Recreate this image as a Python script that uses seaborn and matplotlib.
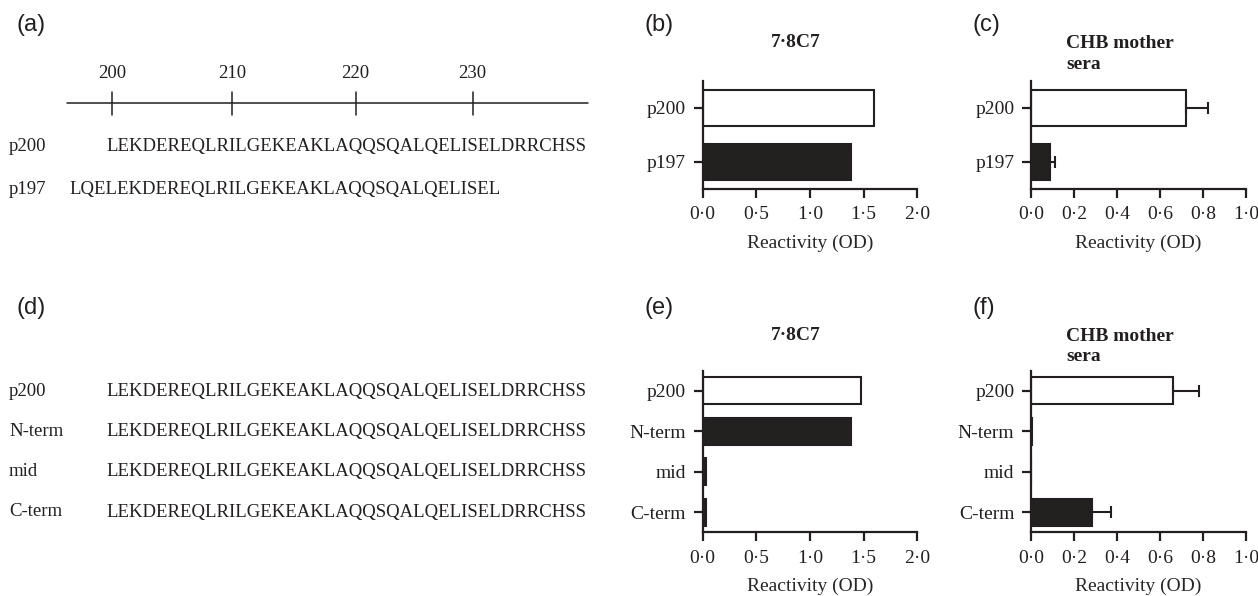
import numpy as np
import pandas as pd
import seaborn as sns
import matplotlib.pyplot as plt
from matplotlib.lines import Line2D

# peptide sequences, panel (a) and (d)
seq_p200 = 'LEKDEREQLRILGEKEAKLAQQSQALQELISELDRRCHSS'
seq_p197 = 'LQELEKDEREQLRILGEKEAKLAQQSQALQELISEL'
start_p200 = 200
start_p197 = 197
ruler_ticks = [200, 210, 220, 230]
seq_names_d = ['p200', 'N-term', 'mid', 'C-term']
seqs_d = [seq_p200, seq_p200, seq_p200, seq_p200]

# reactivity data (OD)
peptides_top = ['p200', 'p197']
od_78c7_top = [1.60, 1.38]
od_chb_top = [0.72, 0.088]
err_chb_top = [0.105, 0.024]

peptides_bottom = ['p200', 'N-term', 'mid', 'C-term']
od_78c7_bottom = [1.48, 1.38, 0.03, 0.03]
od_chb_bottom = [0.66, 0.004, 0.002, 0.283]
err_chb_bottom = [0.122, 0.0, 0.0, 0.09]

ink = '#231f20'
serif = 'Liberation Serif'
sans = 'Liberation Sans'
fs = 13.5
fs_ax = 14

sns.set_style('ticks')
plt.rcParams['font.family'] = [serif, 'DejaVu Serif']
plt.rcParams['text.color'] = ink
plt.rcParams['axes.edgecolor'] = ink

W, H = 1258, 596
fig = plt.figure(figsize=(W / 100, H / 100), dpi=100)


def fx(x):
    return x / W


def fy(y):
    return 1 - y / H


def od_fmt(v):
    return f'{v:.1f}'.replace('.', '\u00b7')


def draw_bars(rect, cats, vals, xmax, step, errs=None):
    ax = fig.add_axes(rect)
    df = pd.DataFrame({'peptide': cats, 'od': vals})
    pal = {c: ('white' if c == 'p200' else ink) for c in cats}
    sns.barplot(data=df, x='od', y='peptide', hue='peptide', palette=pal,
                legend=False, orient='h', width=0.67, edgecolor=ink,
                linewidth=1.5, ax=ax)
    if errs is not None:
        pos = np.arange(len(cats))
        e = np.array(errs)
        keep = e > 0
        ax.errorbar(np.array(vals)[keep], pos[keep],
                    xerr=[np.zeros(keep.sum()), e[keep]], fmt='none',
                    ecolor=ink, elinewidth=1.5, capsize=4.3, capthick=1.5)
    ax.set_xlim(0, xmax)
    ax.set_ylim(len(cats) - 0.5, -0.5)
    ticks = np.arange(0, xmax + 1e-9, step)
    ax.set_xticks(ticks)
    ax.set_xticklabels([od_fmt(t) for t in ticks])
    ax.set_ylabel('')
    ax.set_xlabel('Reactivity (OD)', fontsize=fs_ax, labelpad=8)
    sns.despine(ax=ax)
    for s in ['left', 'bottom']:
        ax.spines[s].set_linewidth(1.6)
    ax.tick_params(axis='both', direction='out', length=6.5, width=1.6,
                   colors=ink, labelsize=fs_ax)
    ax.tick_params(axis='y', pad=5.5)
    ax.tick_params(axis='x', pad=6)
    return ax


# bar panels
top_b, top_h = 1 - 189 / H, 108 / H
bot_b, bot_h = 1 - 532.3 / H, 161.6 / H
left_b, left_c, wid = 702.5 / W, 1031 / W, 214.8 / W

draw_bars([left_b, top_b, wid, top_h], peptides_top, od_78c7_top, 2.0, 0.5)
draw_bars([left_c, top_b, wid, top_h], peptides_top, od_chb_top, 1.0, 0.2,
          err_chb_top)
draw_bars([left_b, bot_b, wid, bot_h], peptides_bottom, od_78c7_bottom, 2.0, 0.5)
draw_bars([left_c, bot_b, wid, bot_h], peptides_bottom, od_chb_bottom, 1.0, 0.2,
          err_chb_bottom)

# titles
for ty in [42.5, 335]:
    fig.text(fx(795.5), fy(ty), '7\u00b78C7', ha='center', va='center',
             fontsize=fs_ax, fontweight='bold')
    fig.text(fx(1066), fy(ty + 11.5), 'CHB mother\nsera', ha='left',
             va='center', fontsize=fs_ax, fontweight='bold', linespacing=1.3)

# panel letters
for lab, x, y in [('(a)', 16, 25), ('(b)', 645, 25), ('(c)', 973, 25),
                  ('(d)', 16, 308), ('(e)', 645, 308), ('(f)', 973, 308)]:
    fig.text(fx(x), fy(y), lab, ha='left', va='center', fontsize=17,
             family=sans)

# sequences
seq_x = 106
renderer = fig.canvas.get_renderer()


def text_width(s):
    t = fig.text(0, 0, s, fontsize=fs)
    w = t.get_window_extent(renderer).width
    t.remove()
    return w


fig.text(fx(9), fy(147), 'p200', ha='left', va='center', fontsize=fs)
fig.text(fx(seq_x), fy(147), seq_p200, ha='left', va='center', fontsize=fs)
fig.text(fx(9), fy(190), 'p197', ha='left', va='center', fontsize=fs)
off = text_width(seq_p197[:start_p200 - start_p197])
fig.text(fx(seq_x - off), fy(190), seq_p197, ha='left', va='center',
         fontsize=fs)

# ruler over panel (a)
fig.add_artist(Line2D([fx(67), fx(588)], [fy(103), fy(103)], color=ink,
                      lw=1.1))
for r in ruler_ticks:
    k = r - start_p200
    xt = seq_x + 0.5 * (text_width(seq_p200[:k]) + text_width(seq_p200[:k + 1]))
    fig.add_artist(Line2D([fx(xt), fx(xt)], [fy(91.5), fy(115)], color=ink,
                          lw=1.1))
    fig.text(fx(xt), fy(74), str(r), ha='center', va='center', fontsize=fs)

# panel (d)
for i, (name, s) in enumerate(zip(seq_names_d, seqs_d)):
    yy = 391.7 + i * 40.1
    fig.text(fx(9), fy(yy), name, ha='left', va='center', fontsize=fs)
    fig.text(fx(seq_x), fy(yy), s, ha='left', va='center', fontsize=fs)

fig.savefig('out.png', dpi=100)
